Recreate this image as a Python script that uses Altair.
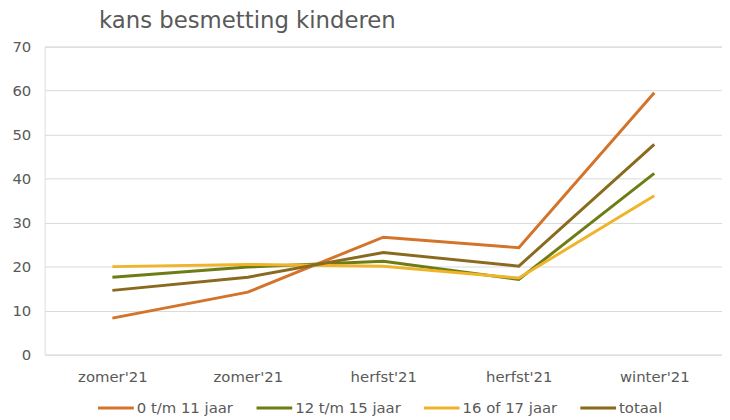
import altair as alt
import pandas as pd

periods = ["zomer'21", "zomer'21", "herfst'21", "herfst'21", "winter'21"]
series_names = ["0 t/m 11 jaar", "12 t/m 15 jaar", "16 of 17 jaar", "totaal"]
v_0_11 = [8.3, 14.2, 26.7, 24.3, 59.5]
v_12_15 = [17.6, 19.9, 21.2, 17.1, 41.2]
v_16_17 = [20.0, 20.5, 20.1, 17.4, 36.1]
v_totaal = [14.6, 17.6, 23.2, 20.1, 47.8]
colors = ["#D4732A", "#6E7C14", "#F0B42A", "#8A6A1E"]

rows = []
for name, vals in zip(series_names, [v_0_11, v_12_15, v_16_17, v_totaal]):
    for i, v in enumerate(vals):
        rows.append({"idx": i, "serie": name, "waarde": v, "order": series_names.index(name)})
df = pd.DataFrame(rows)

label_expr = "[" + ",".join("'" + p.replace("'", "\\'") + "'" for p in periods) + "][datum.value]"

chart = alt.Chart(df).mark_line(strokeWidth=3).encode(
    x=alt.X("idx:O", scale=alt.Scale(type="point", padding=0.5),
            axis=alt.Axis(title=None, labelExpr=label_expr, labelAngle=0, ticks=False,
                          domain=False, labelFontSize=15, labelColor="#595959",
                          labelPadding=15, labelFont="DejaVu Sans")),
    y=alt.Y("waarde:Q", scale=alt.Scale(domain=[0, 70]),
            axis=alt.Axis(title=None, values=[0, 10, 20, 30, 40, 50, 60, 70], ticks=False,
                          domain=False, labelFontSize=15, labelColor="#595959",
                          labelPadding=14, gridColor="#d9d9d9", labelFont="DejaVu Sans")),
    color=alt.Color("serie:N", scale=alt.Scale(domain=series_names, range=colors),
                    legend=alt.Legend(title=None, orient="none", direction="horizontal",
                                      legendX=52, legendY=345, columns=4,
                                      symbolType="stroke", symbolSize=1300,
                                      symbolStrokeWidth=3, labelFontSize=15,
                                      labelColor="#595959", labelFont="DejaVu Sans",
                                      labelOffset=1, columnPadding=16)),
    order="order:Q",
    detail="serie:N",
).properties(
    width=684, height=311,
    title=alt.TitleParams("kans besmetting kinderen", anchor="start", dx=88, fontSize=23,
                          fontWeight="normal", color="#595959", font="DejaVu Sans", offset=7),
    autosize=alt.AutoSizeParams(type="none"),
    padding={"left": 37, "top": 37, "right": 0, "bottom": 64},
).configure_view(stroke=None).configure(background="white")

chart.save("out.html", embed_options={"renderer": "svg", "actions": False})
